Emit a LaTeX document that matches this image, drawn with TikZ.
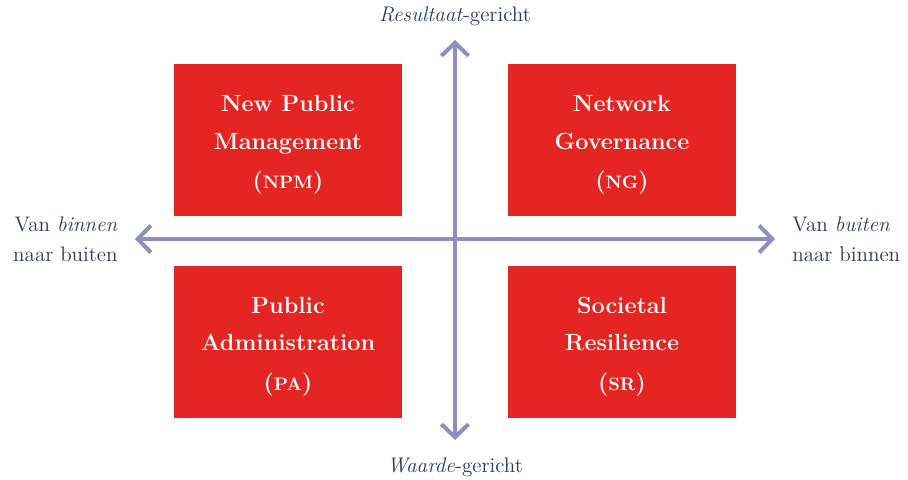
\documentclass[tikz,border=0pt]{standalone}
\usepackage{xcolor}
\usetikzlibrary{positioning, arrows.meta}

\definecolor{boxred}{HTML}{E52521}
\definecolor{axisblue}{HTML}{8C8FC2}
\definecolor{labelblue}{HTML}{2B3566}
% fake small capitals for the abbreviations
\newcommand{\abbr}[1]{{\fontsize{10.3}{21}\selectfont #1}}
% first line strut, pushes the three lines a bit down in the box
\newcommand{\topline}{\rule{0pt}{15pt}}

\begin{document}
\begin{tikzpicture}[
    quadrant/.style={fill=boxred, text=white, align=center, inner sep=0pt,
        minimum width=4.56cm, minimum height=3.04cm,
        font=\bfseries\fontsize{13.3}{21.4}\selectfont},
    axislabel/.style={text=labelblue, inner sep=0pt, font=\fontsize{12}{17}\selectfont},
    axis/.style={axisblue, line width=2.3pt,
        {Straight Barb[length=2.6mm, width=5.4mm]}-{Straight Barb[length=2.6mm, width=5.4mm]}}
    ]
    \useasboundingbox (-9.10,-4.80) rectangle (9.06,4.78);

    % the four quadrants
    \node[quadrant] (npm) at (-3.34, 1.98) {\topline New Public\\Management\\[1pt](\abbr{NPM})};
    \node[quadrant] (ng)  at ( 3.34, 1.98) {\topline Network\\Governance\\[1pt](\abbr{NG})};
    \node[quadrant] (pa)  at (-3.34,-2.05) {\topline Public\\Administration\\[1pt](\abbr{PA})};
    \node[quadrant] (sr)  at ( 3.34,-2.05) {\topline Societal\\Resilience\\[1pt](\abbr{SR})};

    % axes
    \coordinate (top)    at (0, 3.98);
    \coordinate (bottom) at (0,-4.02);
    \coordinate (left)   at (-6.40,0);
    \coordinate (right)  at ( 6.40,0);
    \draw[axis] (bottom) -- (top);
    \draw[axis] (left) -- (right);

    \node[axislabel] (result) at (0, 4.46) {\emph{Resultaat}-gericht};
    \node[axislabel] (value)  at (0,-4.56) {\emph{Waarde}-gericht};
    \node[axislabel, align=right, anchor=east] (inout) at (-6.74,0) {Van \emph{binnen}\\naar buiten};
    \node[axislabel, align=left, anchor=west]  (outin) at ( 6.74,0) {Van \emph{buiten}\\naar binnen};
\end{tikzpicture}
\end{document}
